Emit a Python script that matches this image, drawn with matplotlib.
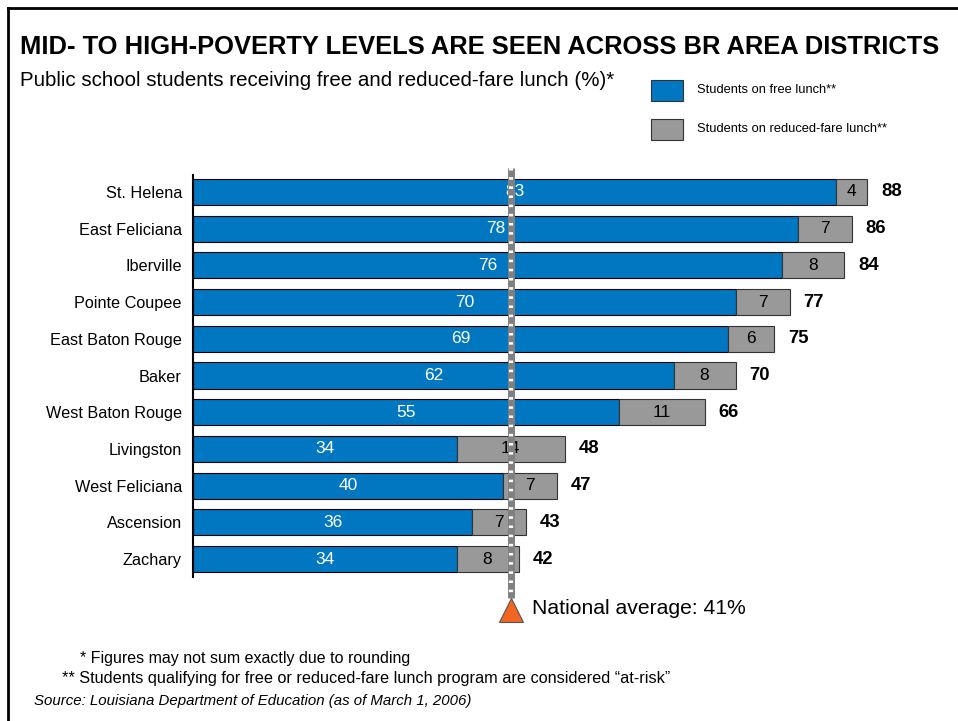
import matplotlib
matplotlib.use("Agg")
import matplotlib.pyplot as plt
from matplotlib.lines import Line2D

plt.rcParams['font.family'] = ['Liberation Sans', 'DejaVu Sans']

# Free and reduced-fare lunch shares by district (%)
districts = ['St. Helena', 'East Feliciana', 'Iberville', 'Pointe Coupee',
             'East Baton Rouge', 'Baker', 'West Baton Rouge', 'Livingston',
             'West Feliciana', 'Ascension', 'Zachary']
free_lunch = [83, 78, 76, 70, 69, 62, 55, 34, 40, 36, 34]
reduced_lunch = [4, 7, 8, 7, 6, 8, 11, 14, 7, 7, 8]
totals = [88, 86, 84, 77, 75, 70, 66, 48, 47, 43, 42]
national_avg = 41

W, H = 958, 721
fig = plt.figure(figsize=(W / 100, H / 100), dpi=100)

def fx(x):
    return x / W

def fy(y):
    return 1 - y / H

# frame lines on the left and top
fig.add_artist(Line2D([fx(8), fx(8)], [fy(8), 0], color='black', lw=2))
fig.add_artist(Line2D([fx(8), 1], [fy(8), fy(8)], color='black', lw=2))

fig.text(fx(20), fy(47), 'MID- TO HIGH-POVERTY LEVELS ARE SEEN ACROSS BR AREA DISTRICTS',
         fontsize=18.4, fontweight='bold', va='center', ha='left')
fig.text(fx(20), fy(80), 'Public school students receiving free and reduced-fare lunch (%)*',
         fontsize=14.8, va='center', ha='left')

blue = '#0177C1'
grey = '#999999'

# legend boxes
lax = fig.add_axes([0, 0, 1, 1], zorder=-1)
lax.set_xlim(0, W)
lax.set_ylim(H, 0)
lax.axis('off')
lax.add_patch(plt.Rectangle((651, 80), 32, 21, facecolor=blue, edgecolor='#333333', lw=0.8))
lax.add_patch(plt.Rectangle((651, 119), 32, 21, facecolor=grey, edgecolor='#333333', lw=0.8))
lax.text(697, 90, 'Students on free lunch**', fontsize=9.3, va='center')
lax.text(697, 129, 'Students on reduced-fare lunch**', fontsize=9.3, va='center')

# main bar chart
scale = 7.75        # pixels per percentage point
row = 36.7          # pixels between rows
ax_left, ax_right, ax_top, ax_bot = 193, 950, 172, 580
ax = fig.add_axes([fx(ax_left), fy(ax_bot), fx(ax_right - ax_left), (ax_bot - ax_top) / H])
ax.set_xlim(0, (ax_right - ax_left) / scale)
ax.set_ylim(10 + (ax_bot - 559) / row, -(192 - ax_top) / row)

ypos = list(range(len(districts)))
ax.barh(ypos, free_lunch, height=0.71, color=blue, edgecolor='black', lw=0.8)
ax.barh(ypos, reduced_lunch, left=free_lunch, height=0.71, color=grey, edgecolor='#333333', lw=0.8)

for i in ypos:
    ax.text(free_lunch[i] / 2, i, str(free_lunch[i]), color='white', fontsize=12.5,
            ha='center', va='center')
    ax.text(free_lunch[i] + reduced_lunch[i] / 2, i, str(reduced_lunch[i]), color='black',
            fontsize=12.5, ha='center', va='center')
    ax.text(free_lunch[i] + reduced_lunch[i] + 1.8, i, str(totals[i]), fontsize=13.3,
            fontweight='bold', ha='left', va='center')

ax.set_yticks(ypos)
ax.set_yticklabels(districts, fontsize=11.7)
ax.tick_params(axis='y', length=0, pad=8)
ax.set_xticks([])
for s in ['top', 'right', 'bottom']:
    ax.spines[s].set_visible(False)
ax.spines['left'].set_linewidth(1.5)
ax.spines['left'].set_bounds(-0.45, 10.5)

# national average marker
y0 = -(192 - 168) / row
y1 = 10 + (598 - 559) / row
ax.plot([national_avg, national_avg], [y0, y1], color='#808080', lw=5, clip_on=False,
        solid_capstyle='butt', zorder=5)
ax.plot([national_avg, national_avg], [y0, y1], color='white', lw=3, clip_on=False,
        dashes=(0.6, 1.6), zorder=6)
ax.plot([national_avg], [10 + (610 - 559) / row], marker='^', markersize=17,
        color='#F26522', markeredgecolor='#555555', mew=0.8, clip_on=False, zorder=7)
ax.text(national_avg + 2.7, 10 + (609 - 559) / row, 'National average: 41%', fontsize=15.2,
        va='center', ha='left')

fig.text(fx(80), fy(659), '* Figures may not sum exactly due to rounding', fontsize=11.5, va='center')
fig.text(fx(62), fy(679), '** Students qualifying for free or reduced-fare lunch program are considered \u201cat-risk\u201d',
         fontsize=11.7, va='center')
fig.text(fx(34), fy(701), 'Source: Louisiana Department of Education (as of March 1, 2006)',
         fontsize=10.8, style='italic', va='center')

fig.savefig('out.png', dpi=100)
